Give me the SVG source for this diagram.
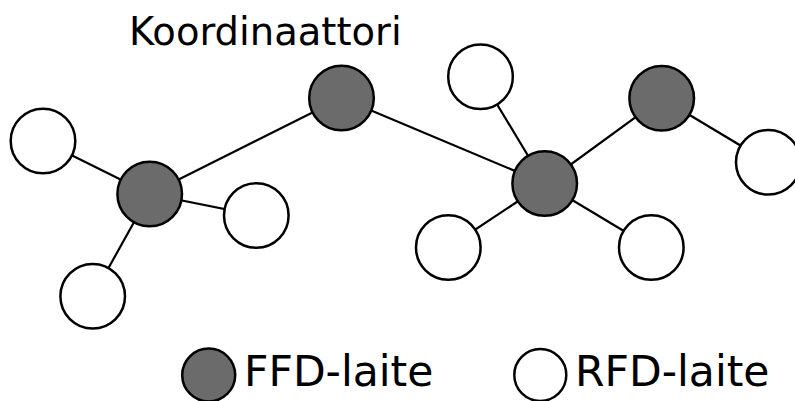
<svg xmlns="http://www.w3.org/2000/svg" width="795" height="401" viewBox="0 0 795 401">
<style>
.ffd{fill:#6b6b6b;stroke:#000;stroke-width:2.5}
.rfd{fill:#fff;stroke:#000;stroke-width:2.5}
.edge{stroke:#000;stroke-width:2.2;fill:none}
.lbl{font-family:"DejaVu Sans",sans-serif;fill:#000}
</style>
<rect width="795" height="401" fill="#fff"/>
<g id="connectors">
<line class="edge" x1="341.5" y1="98" x2="149.7" y2="194"/>
<line class="edge" x1="341.5" y1="98" x2="544.7" y2="183.5"/>
<line class="edge" x1="149.7" y1="194" x2="43" y2="141"/>
<line class="edge" x1="149.7" y1="194" x2="256.3" y2="215.5"/>
<line class="edge" x1="149.7" y1="194" x2="92.7" y2="296.3"/>
<line class="edge" x1="544.7" y1="183.5" x2="480.5" y2="76.7"/>
<line class="edge" x1="544.7" y1="183.5" x2="661.7" y2="98.2"/>
<line class="edge" x1="544.7" y1="183.5" x2="448.3" y2="247.5"/>
<line class="edge" x1="544.7" y1="183.5" x2="651.3" y2="247.5"/>
<line class="edge" x1="661.7" y1="98.2" x2="768.3" y2="162.2"/>
</g>
<g id="coordinator"><circle class="ffd" cx="341.5" cy="98" r="32.3"/></g>
<g id="ffd-left"><circle class="ffd" cx="149.7" cy="194" r="32.3"/></g>
<g id="ffd-mid"><circle class="ffd" cx="544.7" cy="183.5" r="32.3"/></g>
<g id="ffd-right"><circle class="ffd" cx="661.7" cy="98.2" r="32.3"/></g>
<g id="rfd-1"><circle class="rfd" cx="43" cy="141" r="32.3"/></g>
<g id="rfd-2"><circle class="rfd" cx="256.3" cy="215.5" r="32.3"/></g>
<g id="rfd-3"><circle class="rfd" cx="92.7" cy="296.3" r="32.3"/></g>
<g id="rfd-4"><circle class="rfd" cx="480.5" cy="76.7" r="32.3"/></g>
<g id="rfd-5"><circle class="rfd" cx="448.3" cy="247.5" r="32.3"/></g>
<g id="rfd-6"><circle class="rfd" cx="651.3" cy="247.5" r="32.3"/></g>
<g id="rfd-7"><circle class="rfd" cx="768.3" cy="162.2" r="32.3"/></g>
<g id="label-coordinator"><text class="lbl" x="129" y="45" font-size="38.5">Koordinaattori</text></g>
<g id="legend-ffd">
<circle class="ffd" cx="208.7" cy="375" r="26.5"/>
<text class="lbl" x="244" y="386" font-size="42.5">FFD-laite</text>
</g>
<g id="legend-rfd">
<circle class="rfd" cx="540.3" cy="375" r="26"/>
<text class="lbl" x="575" y="386" font-size="42.5">RFD-laite</text>
</g>
</svg>
